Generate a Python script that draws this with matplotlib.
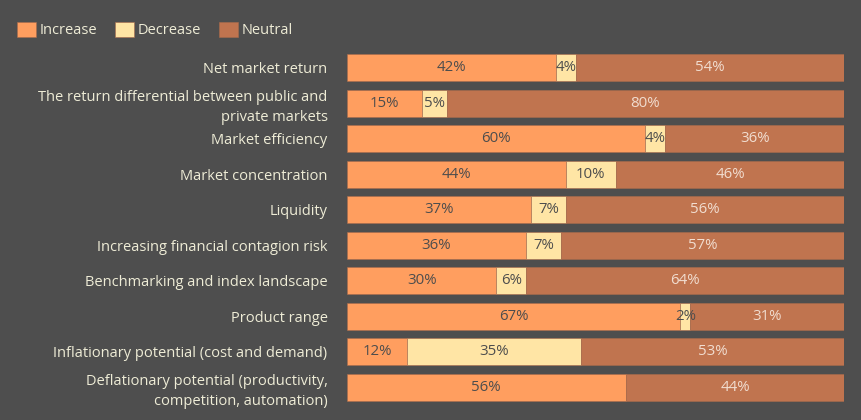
import matplotlib
matplotlib.use('Agg')
import matplotlib.pyplot as plt
import numpy as np

categories = [
    'Net market return',
    'The return differential between public and\nprivate markets',
    'Market efficiency',
    'Market concentration',
    'Liquidity',
    'Increasing financial contagion risk',
    'Benchmarking and index landscape',
    'Product range',
    'Inflationary potential (cost and demand)',
    'Deflationary potential (productivity,\ncompetition, automation)',
]
increase = [42, 15, 60, 44, 37, 36, 30, 67, 12, 56]
decrease = [4, 5, 4, 10, 7, 7, 6, 2, 35, 0]
neutral = [54, 80, 36, 46, 56, 57, 64, 31, 53, 44]

series_names = ['Increase', 'Decrease', 'Neutral']
colors = ['#ff9e5f', '#ffe5a5', '#c0744f']
text_colors = ['#4d4d4d', '#4d4d4d', '#f1ddd0']
bg = '#4e4e4e'

plt.rcParams['font.family'] = ['Open Sans', 'DejaVu Sans']

fig = plt.figure(figsize=(8.62, 4.2), dpi=100, facecolor=bg)
ax = fig.add_axes([0.4026, 0.036, 0.577, 0.845], facecolor=bg)

y = np.arange(len(categories))
left = np.zeros(len(categories))
for name, vals, col, tcol in zip(series_names, [increase, decrease, neutral], colors, text_colors):
    vals = np.array(vals)
    bars = ax.barh(y, vals, left=left, height=0.76, color=col, edgecolor='#a86a4c',
                   linewidth=0.4, label=name)
    for b, v in zip(bars, vals):
        if v > 0:
            ax.text(b.get_x() + b.get_width() / 2, b.get_y() + b.get_height() / 2,
                    f'{v}%', ha='center', va='center', fontsize=10.8, color=tcol)
    left += vals

ax.set_xlim(0, 100)
ax.set_ylim(len(categories) - 0.5, -0.5)
ax.set_yticks(y)
ax.set_yticklabels(categories, fontsize=10.5, color='#eeecd6', linespacing=1.4)
ax.tick_params(axis='y', length=0, pad=14)
ax.set_xticks([])
for s in ax.spines.values():
    s.set_visible(False)

fig.legend(loc='upper left', bbox_to_anchor=(0.004, 0.98), ncol=3, frameon=False,
           fontsize=10.5, labelcolor='#eeecd6', handlelength=1.3, handleheight=1.3,
           handletextpad=0.25, columnspacing=1.25)

fig.savefig('out.png', dpi=100, facecolor=bg)
